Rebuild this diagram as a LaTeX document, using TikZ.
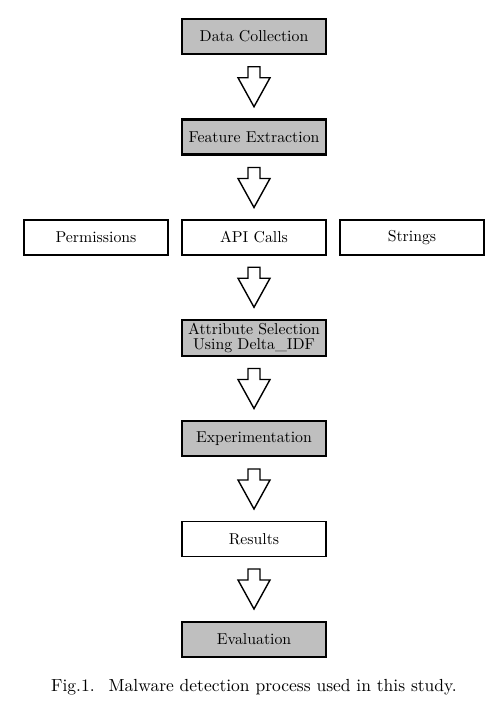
\documentclass[tikz,border=0pt]{standalone}
\usepackage{fontspec}
\setmainfont{lmroman10-regular.otf}
\usetikzlibrary{calc}
\begin{document}
\begin{tikzpicture}[x=1pt,y=1pt,
  box/.style={draw, line width=1.4pt, minimum width=144pt, minimum height=35pt, inner sep=0pt, align=center, font=\fontsize{15.8}{15}\selectfont},
  graybox/.style={box, fill=gray!50, line width=2.4pt},
  downarrow/.pic={\draw[line width=1.4pt, line join=miter, fill=white] (-6,20) -- (6,20) -- (6,9) -- (16,9) -- (0,-20) -- (-16,9) -- (-6,9) -- cycle;}
]
\useasboundingbox (0,0) rectangle (499,-711);
\node[graybox] (dc) at (254,-36.5) {Data Collection};
\node[graybox] (fe) at (254,-137) {Feature Extraction};
\node[box] (perm) at (96,-237.5) {Permissions};
\node[box] (api) at (254,-237.5) {API Calls};
\node[box] (str) at (412,-237.5) {Strings};
\node[graybox, minimum height=36pt] (as) at (254,-338) {Attribute Selection\\Using Delta\_IDF};
\node[graybox] (ex) at (254,-438.5) {Experimentation};
\node[box] (res) at (254,-539) {Results};
\node[graybox] (ev) at (254,-639.5) {Evaluation};
\pic at ($(dc.south)!0.5!(fe.north)$) {downarrow};
\pic at ($(fe.south)!0.5!(api.north)$) {downarrow};
\pic at ($(api.south)!0.5!(as.north)$) {downarrow};
\pic at ($(as.south)!0.5!(ex.north)$) {downarrow};
\pic at ($(ex.south)!0.5!(res.north)$) {downarrow};
\pic at ($(res.south)!0.5!(ev.north)$) {downarrow};
\node[anchor=base, font=\fontsize{17.5}{20}\selectfont] (cap) at (254,-691.5) {Fig.1.\hspace{14pt}Malware detection process used in this study.};
\end{tikzpicture}
\end{document}
